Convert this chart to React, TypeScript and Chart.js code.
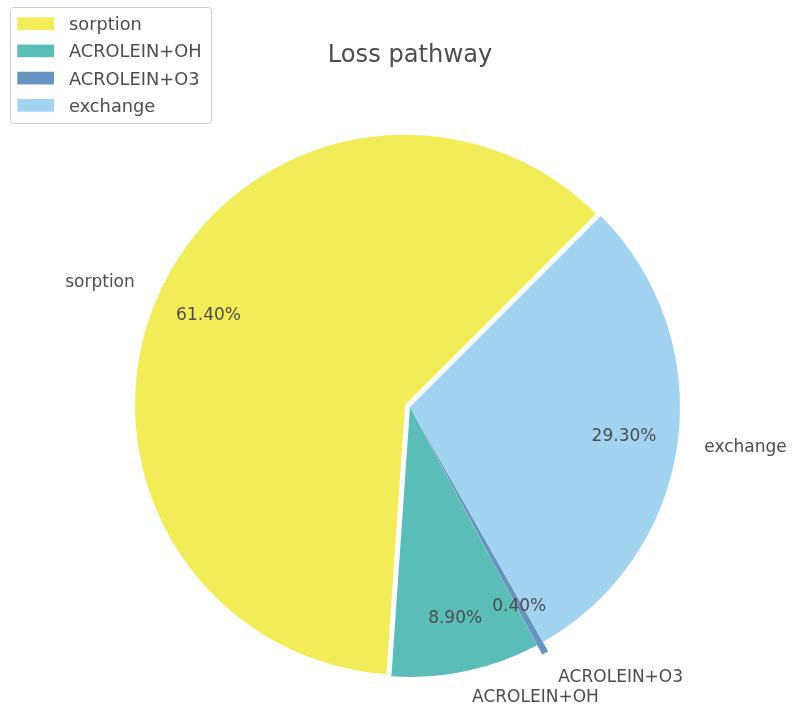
import React, { useEffect, useRef } from 'react';
import { Chart, registerables } from 'chart.js';

Chart.register(...registerables);

// ---- data ----
const categories = ['sorption', 'ACROLEIN+OH', 'ACROLEIN+O3', 'exchange'];
const shares = [61.4, 8.9, 0.4, 29.3];
const chartTitle = 'Loss pathway';

// ---- style ----
const COLORS = ['#f2ec58', '#5bbdb8', '#6894c1', '#a2d4f2'];
const EXPLODE = [0.02, 0, 0.04, 0];
const FONT = '"DejaVu Sans", sans-serif';
const TEXT = '#4d4d4d';
const W = 792;
const H = 707;
const CX = 410;
const CY = 407;
const RADIUS = 270;
const START_ROT = 45; // degrees clockwise from 12 o'clock

// Chart.js draws clockwise; matplotlib counter-clockwise -> reverse order
const rev = <T,>(a: T[]) => [...a].reverse();
const toOrig = (i: number) => categories.length - 1 - i;

const pieDecor = {
  id: 'pieDecor',
  afterDatasetUpdate(chart: any, args: any) {
    const meta = chart.getDatasetMeta(args.index);
    meta.data.forEach((arc: any, i: number) => {
      const d = EXPLODE[toOrig(i)] * arc.outerRadius;
      const mid = (arc.startAngle + arc.endAngle) / 2;
      arc.x += Math.cos(mid) * d;
      arc.y += Math.sin(mid) * d;
    });
  },
  afterDraw(chart: any) {
    const ctx = chart.ctx as CanvasRenderingContext2D;
    const meta = chart.getDatasetMeta(0);
    ctx.save();
    ctx.fillStyle = TEXT;
    ctx.font = `17px ${FONT}`;
    ctx.textBaseline = 'middle';
    meta.data.forEach((arc: any, i: number) => {
      const o = toOrig(i);
      const mid = (arc.startAngle + arc.endAngle) / 2;
      const r = arc.outerRadius;
      ctx.textAlign = 'center';
      ctx.fillText(
        shares[o].toFixed(2) + '%',
        arc.x + Math.cos(mid) * r * 0.8,
        arc.y + Math.sin(mid) * r * 0.8 + 0.5
      );
      const c = Math.cos(mid);
      ctx.textAlign = c > 0 ? 'left' : 'right';
      ctx.fillText(categories[o], arc.x + c * r * 1.1, arc.y + Math.sin(mid) * r * 1.1 + 0.5);
    });

    // title
    ctx.font = `24.2px ${FONT}`;
    ctx.textAlign = 'center';
    ctx.textBaseline = 'alphabetic';
    ctx.fillText(chartTitle, CX, 62);

    // legend
    ctx.beginPath();
    (ctx as any).roundRect(10.5, 7.5, 201, 116, 3);
    ctx.fillStyle = 'rgba(255,255,255,0.8)';
    ctx.fill();
    ctx.strokeStyle = '#d0d0d0';
    ctx.lineWidth = 1;
    ctx.stroke();
    ctx.font = `17.8px ${FONT}`;
    ctx.textAlign = 'left';
    categories.forEach((name, i) => {
      const cy = 23.7 + i * 27.2;
      ctx.fillStyle = COLORS[i];
      ctx.fillRect(17.3, cy - 6.35, 36.7, 12.7);
      ctx.fillStyle = TEXT;
      ctx.fillText(name, 69, cy + 6.4);
    });
    ctx.restore();
  },
};

export default function App() {
  const ref = useRef<HTMLCanvasElement>(null);
  useEffect(() => {
    if (!ref.current) return;
    const chart = new Chart(ref.current, {
      type: 'pie',
      data: {
        labels: rev(categories),
        datasets: [
          {
            data: rev(shares),
            backgroundColor: rev(COLORS),
            borderWidth: 0,
            rotation: START_ROT,
            radius: RADIUS,
          } as any,
        ],
      },
      options: {
        responsive: false,
        animation: false,
        rotation: START_ROT,
        radius: RADIUS,
        layout: {
          padding: { left: 2 * CX - W, right: 0, top: 2 * CY - H, bottom: 0 },
        },
        plugins: {
          legend: { display: false },
          title: { display: false },
          tooltip: { enabled: false },
        },
      } as any,
      plugins: [pieDecor],
    });
    return () => chart.destroy();
  }, []);
  return (
    <div style={{ position: 'absolute', left: 0, top: 0, width: W, height: H, background: '#fff' }}>
      <canvas ref={ref} width={W} height={H} />
    </div>
  );
}
